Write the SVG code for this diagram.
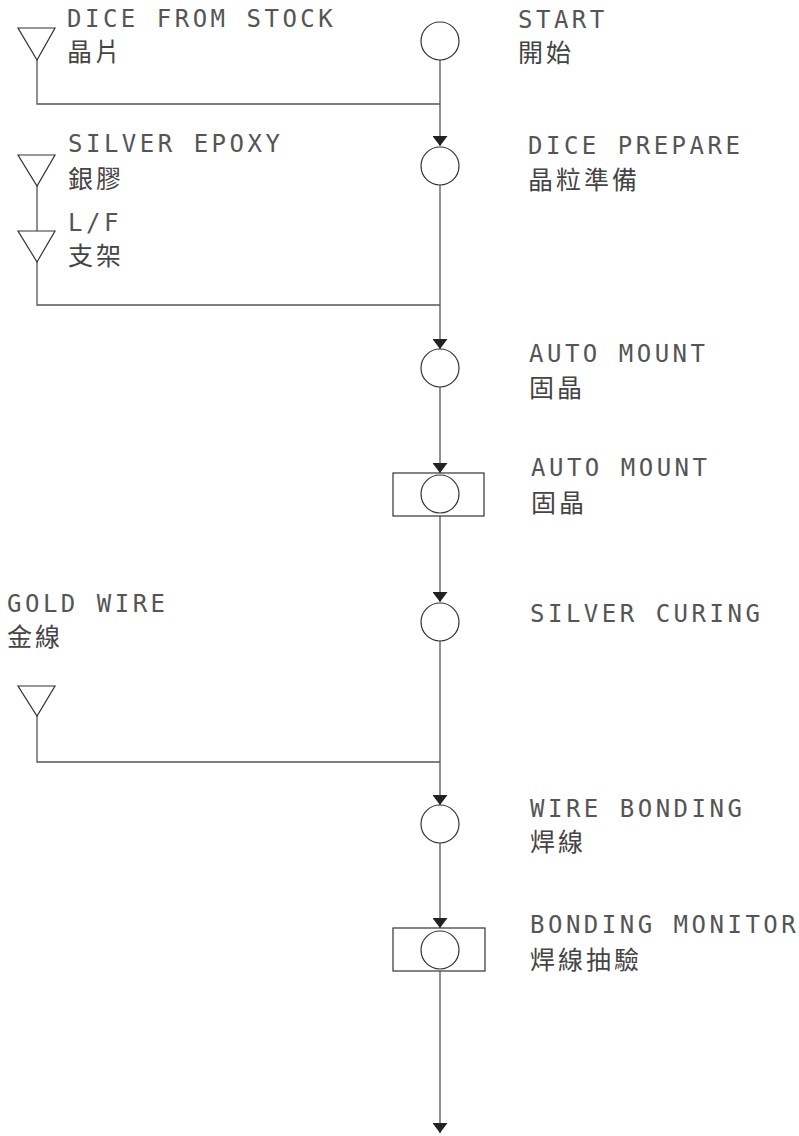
<svg xmlns="http://www.w3.org/2000/svg" width="799" height="1136" viewBox="0 0 799 1136">
<style>
.ln{fill:none;stroke:#555;stroke-width:1.3}
.sh{fill:#fff;stroke:#333;stroke-width:1.2}
.en{font-family:"DejaVu Sans Mono","Liberation Mono",monospace;font-size:24px;letter-spacing:3.5px;fill:#555}
.zh{font-family:"Noto Sans CJK TC","Noto Sans CJK SC",sans-serif;font-size:25px;letter-spacing:3px;fill:#444}
</style>
<defs>
<marker id="arr" markerUnits="userSpaceOnUse" markerWidth="10" markerHeight="15" viewBox="0 0 10 15" refX="10" refY="7.5" orient="auto">
<path d="M0,0 L10,7.5 L0,15 z" fill="#222"/>
</marker>
</defs>
<rect width="799" height="1136" fill="#fff"/>
<g id="connectors">
<line class="ln" x1="440" y1="60" x2="440" y2="146" marker-end="url(#arr)"/>
<polyline class="ln" points="37,60 37,104 440,104"/>
<line class="ln" x1="440" y1="185" x2="440" y2="349" marker-end="url(#arr)"/>
<line class="ln" x1="37" y1="186" x2="37" y2="231"/>
<polyline class="ln" points="37,262 37,305 440,305"/>
<line class="ln" x1="440" y1="387" x2="440" y2="473" marker-end="url(#arr)"/>
<line class="ln" x1="440" y1="516" x2="440" y2="602" marker-end="url(#arr)"/>
<line class="ln" x1="440" y1="641" x2="440" y2="805" marker-end="url(#arr)"/>
<polyline class="ln" points="37,716 37,762 440,762"/>
<line class="ln" x1="440" y1="843" x2="440" y2="928" marker-end="url(#arr)"/>
<line class="ln" x1="440" y1="971" x2="440" y2="1133" marker-end="url(#arr)"/>
</g>
<g id="start">
<circle class="sh" cx="440" cy="41" r="19"/>
<text class="en" x="518" y="28">START</text>
<text class="zh" x="518" y="62">開始</text>
</g>
<g id="dice-from-stock">
<polygon class="sh" points="18,28 55,28 37,60"/>
<text class="en" x="67" y="27">DICE FROM STOCK</text>
<text class="zh" x="67" y="61">晶片</text>
</g>
<g id="dice-prepare">
<circle class="sh" cx="440" cy="166" r="19"/>
<text class="en" x="528" y="154">DICE PREPARE</text>
<text class="zh" x="528" y="189">晶粒準備</text>
</g>
<g id="silver-epoxy">
<polygon class="sh" points="18,155 55,155 37,186"/>
<text class="en" x="68" y="152">SILVER EPOXY</text>
<text class="zh" x="68" y="188">銀膠</text>
</g>
<g id="lead-frame">
<polygon class="sh" points="18,231 55,231 37,262"/>
<text class="en" x="68" y="231">L/F</text>
<text class="zh" x="68" y="265">支架</text>
</g>
<g id="auto-mount-1">
<circle class="sh" cx="440" cy="368" r="19"/>
<text class="en" x="529" y="362">AUTO MOUNT</text>
<text class="zh" x="529" y="397">固晶</text>
</g>
<g id="auto-mount-2">
<rect class="sh" x="393" y="473" width="91" height="43"/>
<circle class="sh" cx="440" cy="494" r="19"/>
<text class="en" x="531" y="476">AUTO MOUNT</text>
<text class="zh" x="531" y="512">固晶</text>
</g>
<g id="silver-curing">
<circle class="sh" cx="440" cy="622" r="19"/>
<text class="en" x="530" y="622">SILVER CURING</text>
</g>
<g id="gold-wire">
<polygon class="sh" points="18,686 55,686 37,716"/>
<text class="en" x="7" y="612">GOLD WIRE</text>
<text class="zh" x="7" y="646">金線</text>
</g>
<g id="wire-bonding">
<circle class="sh" cx="440" cy="824" r="19"/>
<text class="en" x="530" y="817">WIRE BONDING</text>
<text class="zh" x="530" y="851">焊線</text>
</g>
<g id="bonding-monitor">
<rect class="sh" x="393" y="928" width="92" height="43"/>
<circle class="sh" cx="440" cy="950" r="19"/>
<text class="en" x="530" y="933">BONDING MONITOR</text>
<text class="zh" x="530" y="969">焊線抽驗</text>
</g>
</svg>
